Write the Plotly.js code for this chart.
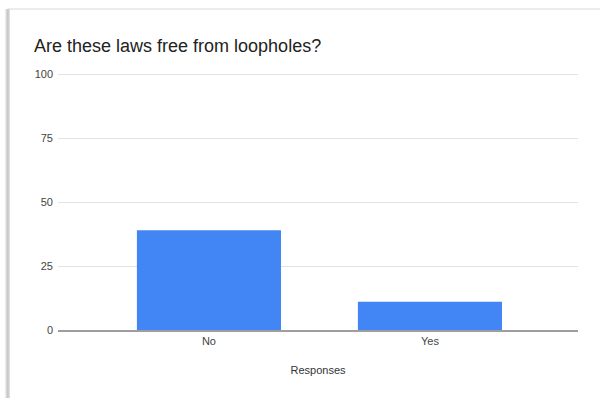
<!DOCTYPE html>
<html>
<head>
<meta charset="utf-8">
<script src="https://cdn.plot.ly/plotly-3.0.1.min.js"></script>
<style>
  html, body { margin: 0; padding: 0; background: #ffffff; }
  #wrap { position: relative; width: 600px; height: 398px; overflow: hidden; }
  #chart { position: absolute; left: 0; top: 0; width: 600px; height: 398px; }
  /* card edge: thin top rule and a soft shadow down the left side */
  #edgeTop { position: absolute; left: 8px; top: 8px; width: 592px; height: 2px; background: #ececec; }
  #edgeLeft { position: absolute; left: 5px; top: 9px; width: 5px; height: 389px;
              background: linear-gradient(to right, #f2f2f2, #c4c4c4 55%, #e6e6e6); }
</style>
</head>
<body>
<div id="wrap">
  <div id="chart"></div>
  <div id="edgeTop"></div>
  <div id="edgeLeft"></div>
</div>
<script>
// Survey responses
const categories = ['No', 'Yes'];
const counts = [39, 11];
const yTickValues = [0, 25, 50, 75, 100];

const chartTitle = 'Are these laws free from loopholes?';
const xTitle = 'Responses';

const trace = {
  type: 'bar',
  x: categories,
  y: counts,
  marker: { color: '#4285f4' },
  hoverinfo: 'x+y'
};

const layout = {
  width: 600,
  height: 398,
  // some headroom above 100 keeps the top gridline from being clipped at the edge
  margin: { l: 58, r: 22, t: 70, b: 68 },
  paper_bgcolor: 'rgba(0,0,0,0)',
  plot_bgcolor: 'rgba(0,0,0,0)',
  font: { family: 'Liberation Sans, Arial, sans-serif', size: 11, color: '#444444' },
  title: {
    text: chartTitle,
    font: { family: 'Liberation Sans, Arial, sans-serif', size: 18, color: '#222222' },
    xref: 'container', yref: 'container',
    x: 34 / 600, xanchor: 'left',
    y: 1 - 46 / 398, yanchor: 'middle'
  },
  bargap: 0.348,
  showlegend: false,
  xaxis: {
    type: 'category',
    range: [-0.683, 1.670],
    showgrid: false,
    showline: true,
    linecolor: '#9e9e9e',
    linewidth: 1.5,
    ticks: '',
    ticklabelstandoff: 0,
    tickfont: { size: 11, color: '#444444' },
    title: { text: xTitle, font: { size: 11, color: '#333333' }, standoff: 20 }
  },
  yaxis: {
    range: [0, 101.5625],
    tickvals: yTickValues,
    ticktext: yTickValues.map(String),
    showgrid: true,
    gridcolor: '#e2e2e2',
    gridwidth: 1,
    zeroline: false,
    showline: false,
    ticks: '',
    ticklabelstandoff: 4,
    tickfont: { size: 11, color: '#444444' }
  }
};

Plotly.newPlot('chart', [trace], layout, { displayModeBar: false, staticPlot: true });
</script>
</body>
</html>
